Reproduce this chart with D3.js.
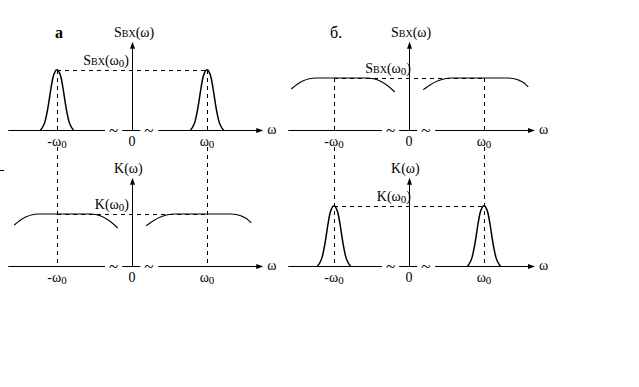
<!DOCTYPE html>
<meta charset="utf-8">
<head>
  <style>
    body {margin: 0; background-color: #ffffff;}
    text {font-family: "Liberation Serif", "DejaVu Serif", serif; fill: #000;}
  </style>
  <title></title>
</head>
<body>
<script src="https://d3js.org/d3.v7.min.js"></script>
<script>

const width = 639, height = 387;

// tick positions (units of omega0) and their labels
const tickPos = [-1, 0, 1];
const tickMain = ["-ω", "0", "ω"];
const tickSub = ["0", "", "0"];

// narrow spectrum (one peak), offsets from the peak centre and levels
const peakOffsets = [-0.22, -0.19, -0.16, -0.133, -0.107, -0.08, -0.053, -0.027, -0.01, 0.01, 0.027, 0.053, 0.08, 0.107, 0.133, 0.16, 0.19, 0.22];
const peakLevels  = [0, 0.05, 0.14, 0.29, 0.48, 0.7, 0.88, 0.97, 1, 1, 0.97, 0.88, 0.7, 0.48, 0.29, 0.14, 0.05, 0];

// broad spectrum, left half (around -omega0) and right half (around +omega0)
const broadLeftW  = [-1.57, -1.49, -1.41, -1.33, -1.25, -0.56, -0.47, -0.38, -0.28, -0.19];
const broadLeftL  = [0.683, 0.763, 0.821, 0.855, 0.867, 0.867, 0.853, 0.812, 0.733, 0.633];
const broadRightW = [0.19, 0.285, 0.38, 0.475, 0.57, 1.32, 1.39, 1.46, 1.53, 1.59];
const broadRightL = [0.67, 0.755, 0.818, 0.855, 0.867, 0.867, 0.858, 0.832, 0.787, 0.717];

// which spectrum is in which panel
const panels = [
  {name: "а", col: 0, row: 0, kind: "peak",  label: "S", sub: "BX"},
  {name: "а", col: 0, row: 1, kind: "broad", label: "K", sub: ""},
  {name: "б.", col: 1, row: 0, kind: "broad", label: "S", sub: "BX"},
  {name: "б.", col: 1, row: 1, kind: "peak",  label: "K", sub: ""}
];

const colCentre = [132, 409];
const rowBase = [130, 266];
const axisExtent = [[-1.65, 1.75], [-1.61, 1.68]];
const unit = 75, levelPx = 60;

const svg = d3.select("body").append("svg")
  .attr("width", width)
  .attr("height", height);

const line = d3.line().curve(d3.curveMonotoneX);

function addLabel(g, x, y, main, sub, anchor) {
  const t = g.append("text")
    .attr("x", x).attr("y", y)
    .attr("text-anchor", anchor)
    .style("font-size", "14px");
  t.append("tspan").text(main);
  if (sub === "BX") {
    t.append("tspan").style("font-size", "10px").text("BX");
  }
  t.append("tspan").text("(ω");
  return t;
}

panels.forEach(p => {
  const cx = colCentre[p.col], base = rowBase[p.row];
  const x = d3.scaleLinear().domain([-1, 1]).range([cx - unit, cx + unit]);
  const y = d3.scaleLinear().domain([0, 1]).range([base, base - levelPx]);
  const g = svg.append("g");
  const ext = axisExtent[p.col];
  const top = p.kind === "peak" ? 1 : 0.867;

  // horizontal axis with the two breaks
  const segs = [[ext[0], -0.36], [-0.13, 0.11], [0.35, ext[1] - 0.08]];
  segs.forEach(s => {
    g.append("line")
      .attr("x1", x(s[0])).attr("x2", x(s[1]))
      .attr("y1", base + 0.5).attr("y2", base + 0.5)
      .attr("stroke", "#000").attr("stroke-width", 1);
  });
  [-0.245, 0.225].forEach(b => {
    g.append("text")
      .attr("x", x(b)).attr("y", base + 6)
      .attr("text-anchor", "middle")
      .style("font-size", "17px")
      .text("~");
  });
  const tip = x(ext[1]);
  g.append("path")
    .attr("d", `M${tip},${base + 0.5} L${tip - 7},${base - 2} L${tip - 7},${base + 3} Z`)
    .attr("fill", "#000");
  g.append("text")
    .attr("x", tip + 4).attr("y", base + 4)
    .style("font-size", "14px")
    .text("ω");

  // vertical axis
  const vTop = y(1.47);
  g.append("line")
    .attr("x1", cx + 0.5).attr("x2", cx + 0.5)
    .attr("y1", vTop + 4).attr("y2", base)
    .attr("stroke", "#000");
  g.append("path")
    .attr("d", `M${cx + 0.5},${vTop} L${cx - 2},${vTop + 7} L${cx + 3},${vTop + 7} Z`)
    .attr("fill", "#000");

  // tick labels
  tickPos.forEach((v, i) => {
    const t = g.append("text")
      .attr("x", x(v)).attr("y", base + 16)
      .attr("text-anchor", "middle")
      .style("font-size", "14px");
    t.append("tspan").text(tickMain[i]);
    if (tickSub[i]) t.append("tspan").attr("dy", 2).style("font-size", "11px").text(tickSub[i]);
  });

  // dashed guides
  const dash = "4,4";
  g.append("line")
    .attr("x1", x(-1)).attr("x2", x(1))
    .attr("y1", y(top) + 0.5).attr("y2", y(top) + 0.5)
    .attr("stroke", "#000").attr("stroke-dasharray", dash);
  [-1, 1].forEach(v => {
    const y1 = p.row === 0 ? y(top) : rowBase[0] + 17;
    g.append("line")
      .attr("x1", x(v) + 0.5).attr("x2", x(v) + 0.5)
      .attr("y1", y1).attr("y2", base)
      .attr("stroke", "#000").attr("stroke-dasharray", dash);
  });

  // the spectra
  if (p.kind === "peak") {
    [-1, 1].forEach(c => {
      g.append("path")
        .attr("d", line(peakOffsets.map((o, i) => [x(c + o), y(peakLevels[i])])))
        .attr("fill", "none").attr("stroke", "#000").attr("stroke-width", 1.5);
    });
  } else {
    [[broadLeftW, broadLeftL], [broadRightW, broadRightL]].forEach(b => {
      g.append("path")
        .attr("d", line(b[0].map((w, i) => [x(w), y(b[1][i])])))
        .attr("fill", "none").attr("stroke", "#000").attr("stroke-width", 1.1);
    });
  }

  // axis titles
  const f = addLabel(g, cx - 18, y(1.47) - 5, p.label, p.sub, "start");
  f.append("tspan").text(")");
  const f0 = addLabel(g, cx + (p.col === 0 ? -3 : 2), y(top) - 5, p.label, p.sub, "end");
  f0.append("tspan").attr("dy", 2).style("font-size", "11px").text("0");
  f0.append("tspan").attr("dy", -2).text(")");

  // panel letter
  if (p.row === 0) {
    g.append("text")
      .attr("x", p.col === 0 ? 55 : 330).attr("y", 38)
      .style("font-size", "16px")
      .style("font-weight", p.col === 0 ? "bold" : "normal")
      .text(p.name);
  }
});

// small stray tick at the left edge
svg.append("line")
  .attr("x1", 0).attr("x2", 4)
  .attr("y1", 170.5).attr("y2", 170.5)
  .attr("stroke", "#000");

</script>
</body>
</html>
